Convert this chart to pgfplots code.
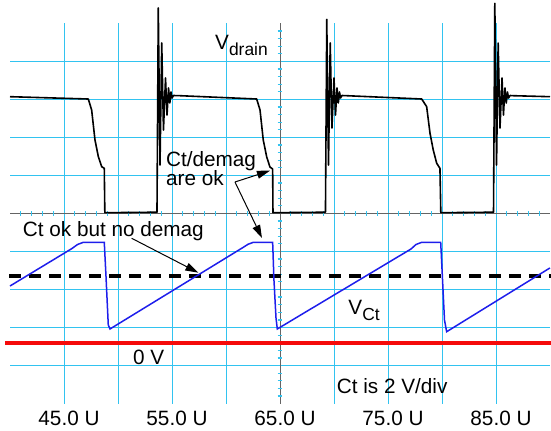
\documentclass[border=0pt]{standalone}
\usepackage{fontspec}
\setmainfont{Liberation Sans}
\usepackage{pgfplots}
\pgfplotsset{compat=1.18}
\usetikzlibrary{arrows.meta,calc}
\definecolor{gridc}{RGB}{50,195,240}
\definecolor{ctblue}{RGB}{30,30,235}
\definecolor{cgray}{RGB}{100,100,100}
\definecolor{zred}{RGB}{245,10,10}
\newcommand\bigf{\fontsize{20.8}{24}\selectfont}
\newcommand\subf{\fontsize{17.5}{20}\selectfont}
\begin{document}
\begin{tikzpicture}
\begin{axis}[name=ax, scale only axis, width=540bp, height=380bp,
 xmin=40, xmax=90, ymin=0, ymax=10, clip=false,
 axis line style={draw=none},
 major tick length=0pt, minor tick length=0pt,
 xtick={45,55,65,75,85}, xticklabels={45.0 U,55.0 U,65.0 U,75.0 U,85.0 U},
 minor xtick={50,60,70,80},
 ytick={1,2,3,4,5,6,7,8,9}, yticklabels={},
 grid=both,
 major grid style={gridc, line width=1bp},
 minor grid style={gridc, line width=1bp},
 xticklabel style={font=\bigf, anchor=base, xshift=5bp, yshift=-21.9bp, inner sep=0pt},
]
% centre axes
\draw[cgray, line width=1.1bp] (axis cs:40,5) -- (axis cs:90,5);
\draw[cgray, line width=1bp] (axis cs:65,0) -- (axis cs:65,10);
\pgfplotsinvokeforeach{41,42,43,44,46,47,48,49,51,52,53,54,56,57,58,59,61,62,63,64,66,67,68,69,71,72,73,74,76,77,78,79,81,82,83,84,86,87,88,89}{
  \draw[gridc, line width=1.2bp] (axis cs:#1,4.94) -- (axis cs:#1,5.06);
}
\pgfplotsinvokeforeach{0.2,0.4,0.6,0.8,1.2,1.4,1.6,1.8,2.2,2.4,2.6,2.8,3.2,3.4,3.6,3.8,4.2,4.4,4.6,4.8,5.2,5.4,5.6,5.8,6.2,6.4,6.6,6.8,7.2,7.4,7.6,7.8,8.2,8.4,8.6,8.8,9.2,9.4,9.6,9.8}{
  \draw[gridc, line width=1.2bp] (axis cs:64.79,#1) -- (axis cs:65.21,#1);
}
% 0 V reference
\addplot[zred, line width=3.6bp] coordinates {(39.54,1.6) (90.1,1.6)};
% threshold
\addplot[black, line width=4bp, dash pattern=on 12bp off 8bp] coordinates {(39.92,3.363) (90.1,3.363)};
% V_Ct
\addplot[ctblue, line width=1.5bp] coordinates {
(40,3.092) (45.74,4.079) (46.25,4.184) (46.79,4.242) (48.73,4.242)
(48.89,3.337) (49.10,2.066) (49.26,1.961)
(61.57,4.105) (62.04,4.19) (62.53,4.242) (64.32,4.242)
(64.44,3.25) (64.63,2.25) (64.75,1.961)
(77.13,4.066) (77.59,4.184) (78.12,4.242) (79.88,4.242)
(80.05,3.25) (80.23,2.197) (80.43,1.889)
(90,3.568)
};
% V_drain
\addplot[black, line width=1.6bp, line join=round] coordinates {
(40,8.074) (47.25,8.013) (47.56,7.724) (47.87,6.934) (48.18,6.495) (48.49,6.232) (48.73,6.189)
(48.78,5.021) (53.61,5.034)
(53.73,10.41) (53.89,6.276) (54.05,9.487) (54.21,7.197) (54.40,8.566) (54.54,7.592)
(54.68,8.303) (54.80,7.908) (54.91,8.197) (55.00,8.039) (55.14,8.105)
(55.74,8.10) (62.84,8.013) (63.15,7.724) (63.45,6.934) (63.77,6.487) (64.07,6.224) (64.32,6.171)
(64.35,5.021) (69.21,5.034)
(69.33,10.11) (69.49,6.276) (69.65,9.487) (69.81,7.25) (70.00,8.566) (70.14,7.592)
(70.28,8.303) (70.40,7.908) (70.51,8.197) (70.60,8.039) (70.74,8.105)
(71.18,8.10) (78.12,8.013) (78.58,7.811) (78.89,7.111) (79.19,6.671) (79.51,6.321) (79.81,6.189)
(79.89,5.021) (84.77,5.034)
(84.89,10.53) (85.05,6.276) (85.20,9.487) (85.37,7.25) (85.56,8.566) (85.69,7.592)
(85.83,8.303) (85.95,7.908) (86.06,8.197) (86.16,8.039) (86.30,8.105)
(86.60,8.10) (90,8.074)
};
% labels
\node[anchor=base west, inner sep=0pt] at (axis cs:58.98,9.321) {\bigf V\raisebox{-6.5bp}{\subf drain}};
\node[anchor=base west, inner sep=0pt] at (axis cs:71.32,2.329) {\bigf V\raisebox{-5.5bp}{\subf Ct}};
\node[anchor=base west, inner sep=0pt] at (axis cs:54.44,6.242) {\bigf Ct/demag};
\node[anchor=base west, inner sep=0pt] at (axis cs:54.44,5.736) {\bigf are ok};
\node[anchor=base west, inner sep=0pt] at (axis cs:41.18,4.389) {\bigf Ct ok but no demag};
\node[anchor=base west, inner sep=0pt] at (axis cs:51.39,1.039) {\bigf 0 V};
\node[anchor=base west, inner sep=0pt] at (axis cs:70.25,0.268) {\bigf Ct is 2 V/div};
% arrows
\draw[black, line width=1bp, -{Triangle[length=13bp,width=8bp]}] (axis cs:60.83,5.829) -- (axis cs:64.07,6.126);
\draw[black, line width=1bp, -{Triangle[length=13bp,width=8bp]}] (axis cs:60.83,5.829) -- (axis cs:63.33,4.355);
\draw[black, line width=1bp, -{Triangle[length=13bp,width=8bp]}] (axis cs:51.27,4.347) -- (axis cs:57.44,3.442);
\end{axis}
\pgfresetboundingbox
\path[use as bounding box] ($(ax.south west)+(-10bp,-27.5bp)$) rectangle ($(ax.north east)+(1bp,23.5bp)$);
\end{tikzpicture}
\end{document}
